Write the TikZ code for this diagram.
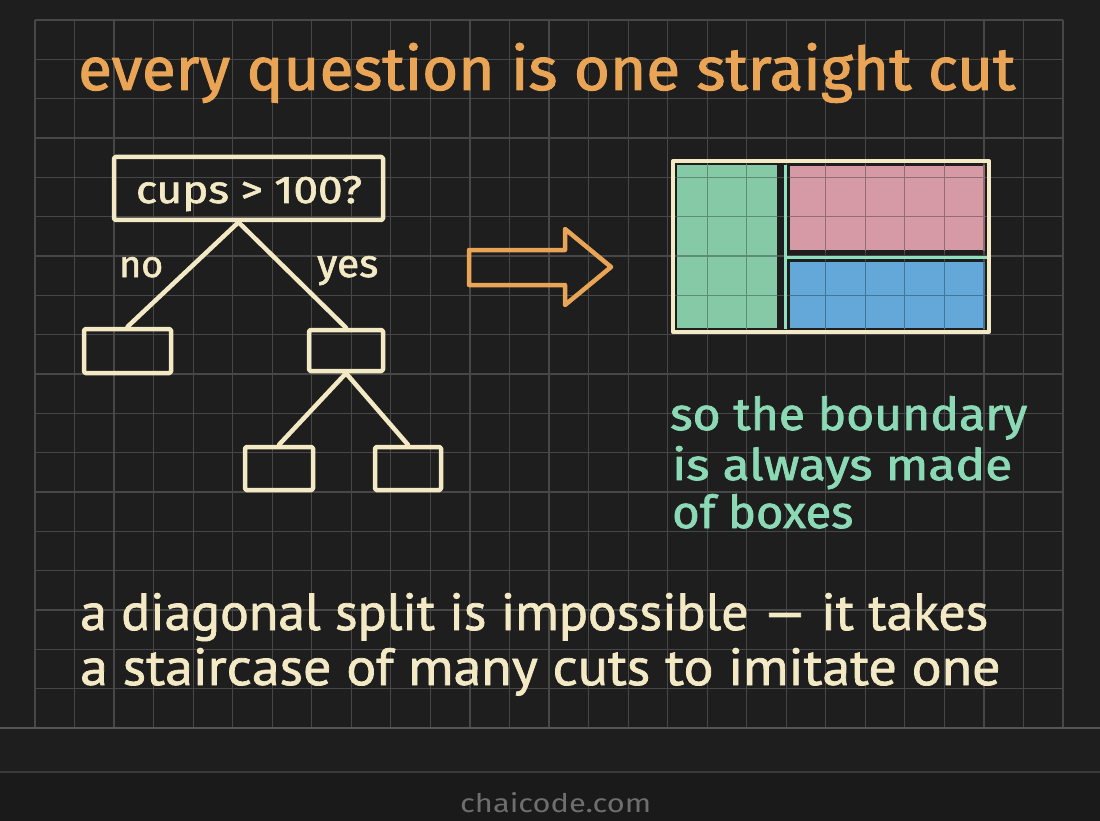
\documentclass[tikz,border=0pt]{standalone}
\usepackage{fontspec}
\usepackage{graphicx}
\setmainfont{Fira Sans}
\newfontfamily\chalkfont{Fira Sans}[FakeBold=1.6]
\newfontfamily\handfont{PT Sans}[FakeBold=1.4]
\definecolor{board}{HTML}{1E1E1E}
\definecolor{tray}{HTML}{1A1A1A}
\definecolor{gridc}{HTML}{474747}
\definecolor{edgec}{HTML}{555555}
\definecolor{cream}{HTML}{F3EAC5}
\definecolor{chalkorange}{HTML}{E9A555}
\definecolor{mint}{HTML}{8BD9B5}
\definecolor{gfill}{HTML}{86C9A6}
\definecolor{pfill}{HTML}{D59AA5}
\definecolor{bfill}{HTML}{63A8D8}
\definecolor{divc}{HTML}{8FE0BE}
\definecolor{footc}{HTML}{6E6E6E}
\newcommand\fitbox[3]{\resizebox{#1pt}{#2pt}{#3}}
\newcommand\cellgrid[1]{%
  \foreach \i in {0,...,26} \draw[#1, line width=1.2pt] ({35+39.54*\i},20) -- ({35+39.54*\i},728);
  \foreach \j in {0,...,18} \draw[#1, line width=1.2pt] (35,{20+39.33*\j}) -- (1063,{20+39.33*\j});}
\tikzset{
  chalk/.style={draw=cream, line width=4.5pt, line join=round},
  treebox/.style={chalk, rectangle, inner sep=0pt, rounded corners=1.5pt},
  link/.style={draw=cream, line width=4.5pt, line cap=round},
  lbl/.style={inner sep=0pt, anchor=base west, font=\chalkfont},
  divider/.style={draw=divc, line width=3pt},
}
\begin{document}
\begin{tikzpicture}[x=1pt,y=-1pt]
\useasboundingbox (0,0) rectangle (1100,821);
\fill[board] (0,0) rectangle (1100,821);
\fill[tray] (0,772) rectangle (1100,821);
% grid
\cellgrid{gridc}
\draw[edgec, line width=2pt] (0,728) -- (1100,728);
\draw[gridc!80!black, line width=2.5pt] (0,772) -- (1100,772);

% coloured regions
\fill[gfill] (677,165) rectangle (777,328);
\fill[pfill] (790,166) rectangle (985,250);
\fill[bfill] (790,262) rectangle (985,328);
\begin{scope}
  \clip (677,165) rectangle (777,328);
  \cellgrid{gfill!70!black}
\end{scope}
\begin{scope}
  \clip (790,166) rectangle (985,250);
  \cellgrid{pfill!70!black}
\end{scope}
\begin{scope}
  \clip (790,262) rectangle (985,328);
  \cellgrid{bfill!70!black}
\end{scope}
\draw[divider] (785,165) -- (785,329);
\draw[divider] (785,257) -- (987,257);
\draw[chalk, line width=4pt] (673,161) rectangle (989,332);

% arrow
\draw[chalkorange, line width=4.5pt, line join=round]
  (469,250) -- (565,250) -- (565,229) -- (611,267) -- (565,305) -- (565,285) -- (469,285) -- cycle;

% tree
\node[treebox, minimum width=269pt, minimum height=63pt] (root) at (248.5,188.5) {};
\node[inner sep=0pt, anchor=base, text=cream, font=\chalkfont] (rootlabel) at (249,203) {\fitbox{226}{27}{cups > 100?}};
\node[treebox, minimum width=87pt, minimum height=44pt] (nobox) at (127.5,351) {};
\node[treebox, minimum width=74pt, minimum height=41pt] (yesbox) at (346,350.5) {};
\node[treebox, minimum width=68pt, minimum height=43pt] (bl) at (279,468.5) {};
\node[treebox, minimum width=66pt, minimum height=43pt] (br) at (408,468.5) {};
\draw[link] ([xshift=-10pt]root.south) -- (nobox.north);
\draw[link] ([xshift=-10pt]root.south) -- (yesbox.north);
\draw[link] (yesbox.south) -- (bl.north);
\draw[link] (yesbox.south) -- (br.north);
\node[lbl, text=cream] (nolabel) at (119,277) {\fitbox{44}{20}{no}};
\node[lbl, text=cream] (yeslabel) at (317,277) {\fitbox{61}{21}{yes}};

% texts
\node[lbl, text=chalkorange] (title) at (78,90) {\fitbox{937}{47}{\vphantom{l}every question is one straight cut}};
\node[lbl, text=mint] (g1) at (670,430) {\fitbox{357}{34}{\vphantom{l}so the boundary}};
\node[lbl, text=mint] (g2) at (672,480) {\fitbox{340}{34}{\vphantom{l}is always made}};
\node[lbl, text=mint] (g3) at (672,528) {\fitbox{181}{34}{\vphantom{l}of boxes}};
\node[lbl, text=cream, font=\handfont] (b1) at (80,630) {\fitbox{908}{37}{\vphantom{l}a diagonal split is impossible — it takes}};
\node[lbl, text=cream, font=\handfont] (b2) at (80,685) {\fitbox{920}{37}{\vphantom{l}a staircase of many cuts to imitate one}};
\node[lbl, text=footc, font=\rmfamily] (foot) at (460,812) {\fitbox{191}{20}{\vphantom{l}chaicode.com}};
\end{tikzpicture}
\end{document}
